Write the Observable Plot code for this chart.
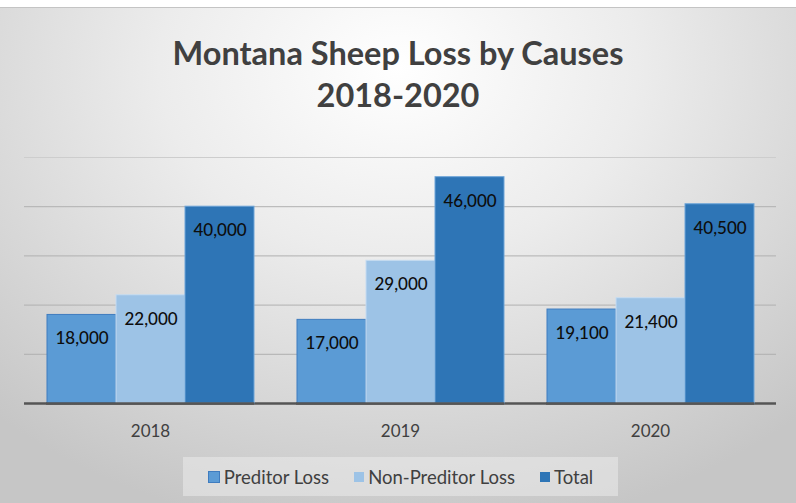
<!DOCTYPE html>
<html>
<head>
<meta charset="utf-8">
<script src="https://cdn.jsdelivr.net/npm/d3@7"></script>
<script src="https://cdn.jsdelivr.net/npm/@observablehq/plot@0.6"></script>
<style>
  html, body { margin: 0; padding: 0; background: #ffffff; }
  #wrap { position: relative; width: 796px; height: 503px; overflow: hidden; font-family: Lato, "Open Sans", sans-serif; }
  #panel { position: absolute; left: 0; top: 7px; width: 796px; height: 496px;
    border-top: 1px solid #c4c4c4;
    background: radial-gradient(ellipse 75% 95% at 50% 12%, #ffffff 0%, #ececec 40%, #d6d6d6 75%, #c6c6c6 100%); }
  #title { position: absolute; left: 0; top: 32px; width: 796px; text-align: center;
    font-weight: 700; font-size: 32.5px; line-height: 42px; color: #404040; }
  .layer { position: absolute; left: 0; top: 140px; }
  #legend { position: absolute; left: 183px; top: 457px; width: 435px; height: 39px;
    background: rgba(235,235,235,0.55); display: flex; align-items: center; justify-content: center;
    font-size: 18.5px; color: #404040; }
  .item { display: flex; align-items: center; margin: 0 12.5px; }
  .sw { width: 10px; height: 10px; margin-right: 4px; box-sizing: border-box; }
</style>
</head>
<body>
<div id="wrap">
  <div id="panel"></div>
  <div id="title">Montana Sheep Loss by Causes<br>2018-2020</div>
  <div id="grid" class="layer"></div>
  <div id="chart" class="layer"></div>
  <div id="legend"></div>
</div>
<script>
const years = ["2018", "2019", "2020"];
const series = ["Preditor Loss", "Non-Preditor Loss", "Total"];
const preditorLoss = [18000, 17000, 19100];
const nonPreditorLoss = [22000, 29000, 21400];
const total = [40000, 46000, 40500];
const gridValues = [10000, 20000, 30000, 40000, 50000];

const fills = ["#5b9bd5", "#9dc3e6", "#2e75b6"];
const strokes = ["#3f7cbf", "#c6dcf1", "#6fa6d9"];

const data = years.flatMap((y, i) => [
  {year: y, series: series[0], value: preditorLoss[i]},
  {year: y, series: series[1], value: nonPreditorLoss[i]},
  {year: y, series: series[2], value: total[i]}
]);

const fmt = d3.format(",");
const strokeOf = s => strokes[series.indexOf(s)];

const common = {
  width: 796,
  height: 300,
  marginTop: 17,
  marginBottom: 37,
  marginLeft: 24,
  marginRight: 20,
  style: {background: "transparent", color: "#404040", fontFamily: "Lato, 'Open Sans', sans-serif", overflow: "visible"},
  y: {domain: [0, 50000], axis: null}
};

// underlay: full-width gridlines and baseline
const gridPlot = Plot.plot({
  ...common,
  marks: [
    Plot.ruleY(gridValues, {stroke: d => d === 50000 ? "#cdcdcd" : "#b0b0b0", strokeWidth: 1}),
    Plot.ruleY([0], {stroke: "#555555", strokeWidth: 2.5})
  ]
});
document.getElementById("grid").appendChild(gridPlot);

const plot = Plot.plot({
  ...common,
  fx: {domain: years, paddingInner: 0.17, paddingOuter: 0.085, axis: null, label: null},
  x: {domain: series, padding: 0, axis: null},
  color: {domain: series, range: fills},
  marks: [
    Plot.barY(data, {fx: "year", x: "series", y: "value", fill: "series", stroke: d => strokeOf(d.series), strokeWidth: 1}),
    Plot.text(data, {fx: "year", x: "series", y: "value", text: d => fmt(d.value), dy: 24, fill: "#0d0d0d", fontSize: 17, fontWeight: 500}),
    Plot.ruleY([0], {stroke: "#555555", strokeWidth: 2.5}),
    Plot.axisFx({anchor: "bottom", tickSize: 0, tickPadding: 21, fontSize: 17, label: null, fill: "#404040"})
  ]
});
document.getElementById("chart").appendChild(plot);

const legend = document.getElementById("legend");
series.forEach((s, i) => {
  const item = document.createElement("div");
  item.className = "item";
  const sw = document.createElement("div");
  sw.className = "sw";
  sw.style.background = fills[i];
  if (i === 0) { sw.style.border = "1px solid " + strokes[0]; sw.style.width = "12px"; sw.style.height = "12px"; }
  const t = document.createElement("span");
  t.textContent = s;
  item.appendChild(sw);
  item.appendChild(t);
  legend.appendChild(item);
});
</script>
</body>
</html>
